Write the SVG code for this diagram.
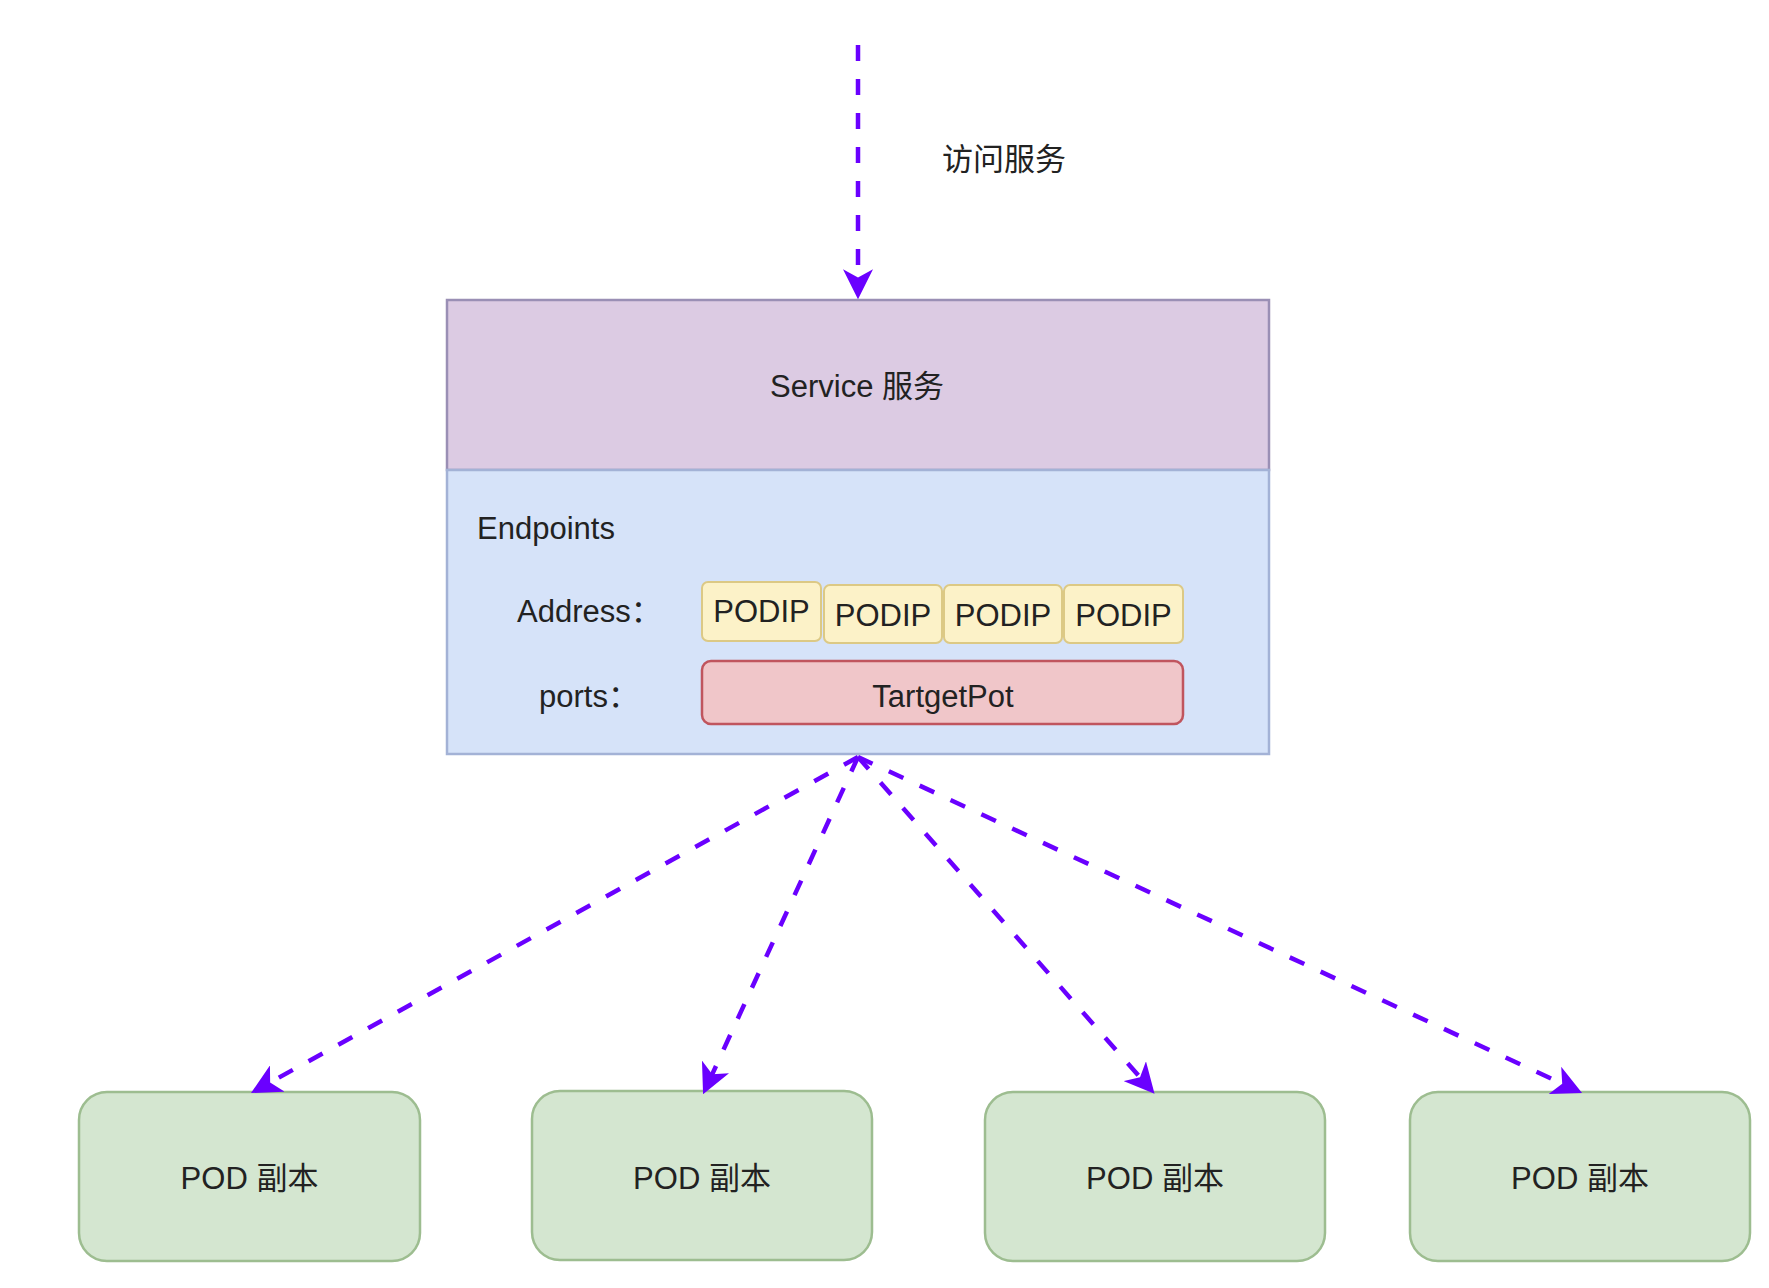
<svg xmlns="http://www.w3.org/2000/svg" width="1769" height="1288" viewBox="0 0 1769 1288">
<style>
  text { font-family: "Liberation Sans", "Noto Sans CJK SC", sans-serif; fill: #222; font-size: 31px; }
  .mid { text-anchor: middle; }
  .flow { fill: none; stroke: #6a00ff; stroke-width: 4.5; stroke-dasharray: 16 18; }
  .svc { fill: #dccbe3; stroke: #9a8fb5; stroke-width: 2.5; }
  .ep { fill: #d6e3f9; stroke: #a3b2d6; stroke-width: 2.5; }
  .ip { fill: #fcf2c8; stroke: #dcc985; stroke-width: 2; }
  .port { fill: #f0c6c9; stroke: #c0555e; stroke-width: 2.5; }
  .pod { fill: #d4e6d0; stroke: #9dbd90; stroke-width: 2.5; }
</style>
<defs>
  <marker id="arr" markerUnits="userSpaceOnUse" markerWidth="30" markerHeight="30" viewBox="0 0 26 26" refX="11" refY="13" orient="auto">
    <path d="M0,0 L26,13 L0,26 L7,13 Z" fill="#6a00ff"/>
  </marker>
</defs>
<rect width="1769" height="1288" fill="#ffffff"/>

<g id="service">
  <rect class="svc" x="447" y="300" width="822" height="170"/>
  <text class="mid" x="857" y="397">Service 服务</text>
</g>

<g id="endpoints">
  <rect class="ep" x="447" y="470" width="822" height="284"/>
  <text x="477" y="539">Endpoints</text>
  <text x="517" y="622">Address：</text>
  <text x="539" y="707">ports：</text>
</g>

<g id="podip1">
  <rect class="ip" x="702" y="582" width="119" height="59" rx="6"/>
  <text class="mid" x="761.5" y="622">PODIP</text>
</g>
<g id="podip2">
  <rect class="ip" x="824" y="585" width="118" height="58" rx="6"/>
  <text class="mid" x="883" y="626">PODIP</text>
</g>
<g id="podip3">
  <rect class="ip" x="944" y="585" width="118" height="58" rx="6"/>
  <text class="mid" x="1003" y="626">PODIP</text>
</g>
<g id="podip4">
  <rect class="ip" x="1064" y="585" width="119" height="58" rx="6"/>
  <text class="mid" x="1123.5" y="626">PODIP</text>
</g>

<g id="targetport">
  <rect class="port" x="702" y="661" width="481" height="63" rx="9"/>
  <text class="mid" x="943" y="707">TartgetPot</text>
</g>

<g id="pod1">
  <rect class="pod" x="79" y="1092" width="341" height="169" rx="28"/>
  <text class="mid" x="249.5" y="1189">POD 副本</text>
</g>
<g id="pod2">
  <rect class="pod" x="532" y="1091" width="340" height="169" rx="28"/>
  <text class="mid" x="702" y="1189">POD 副本</text>
</g>
<g id="pod3">
  <rect class="pod" x="985" y="1092" width="340" height="169" rx="28"/>
  <text class="mid" x="1155" y="1189">POD 副本</text>
</g>
<g id="pod4">
  <rect class="pod" x="1410" y="1092" width="340" height="169" rx="28"/>
  <text class="mid" x="1580" y="1189">POD 副本</text>
</g>

<g id="connectors">
  <line class="flow" x1="858" y1="45" x2="858" y2="282" marker-end="url(#arr)"/>
  <text x="942" y="170">访问服务</text>
  <line class="flow" x1="858" y1="757" x2="266.1" y2="1084.7" marker-end="url(#arr)"/>
  <line class="flow" x1="858" y1="757" x2="710.3" y2="1078.4" marker-end="url(#arr)"/>
  <line class="flow" x1="858" y1="757" x2="1143.1" y2="1080.7" marker-end="url(#arr)"/>
  <line class="flow" x1="858" y1="757" x2="1566.4" y2="1085.7" marker-end="url(#arr)"/>
</g>
</svg>
